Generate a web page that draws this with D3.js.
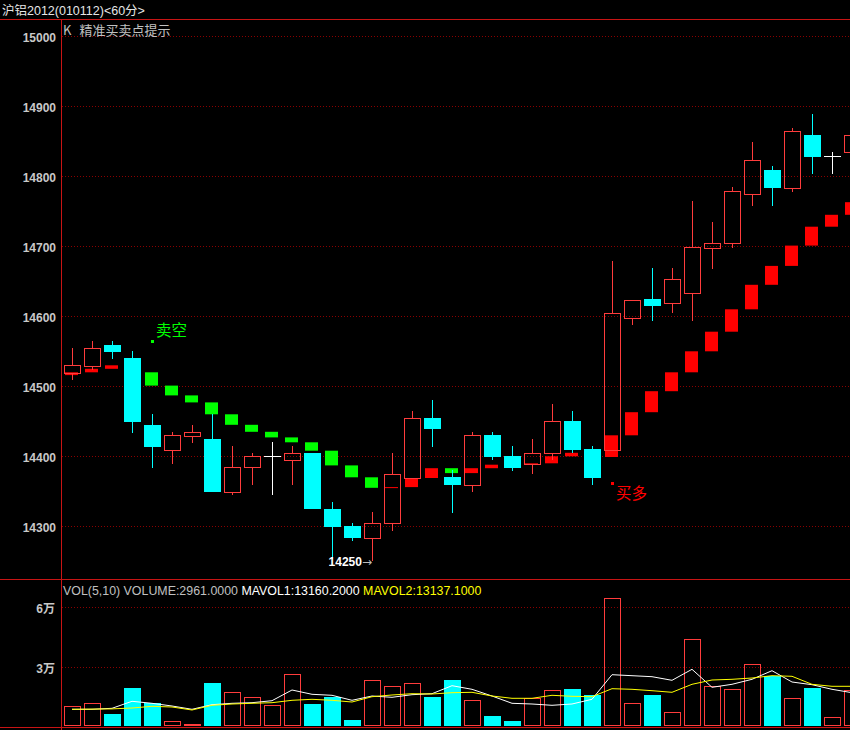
<!DOCTYPE html>
<html><head><meta charset="utf-8">
<script src="https://cdn.jsdelivr.net/npm/d3@7/dist/d3.min.js"></script>
<style>html,body{margin:0;padding:0;background:#000;overflow:hidden}svg{display:block}</style>
</head><body><svg id="c" width="850" height="730"></svg>
<script>
// ---- data ----
const opens  = [14519,14529,14559,14540,14445,14409,14429,14425,14349,14384,14400,14394,14405,14325,14300,14284,14304,14369,14455,14370,14359,14430,14400,14389,14404,14450,14410,14409,14598,14625,14619,14634,14698,14704,14774,14809,14784,14859,14829,14834];
const highs  = [14555,14565,14565,14550,14460,14435,14445,14460,14415,14405,14420,14415,14405,14335,14305,14320,14405,14465,14480,14380,14435,14435,14415,14425,14475,14464,14415,14679,14624,14669,14669,14765,14735,14785,14849,14815,14869,14889,14835,14859];
const lows   = [14509,14523,14539,14433,14383,14389,14419,14349,14344,14359,14344,14359,14324,14254,14279,14250,14294,14369,14414,14319,14349,14394,14379,14374,14394,14404,14359,14409,14588,14594,14604,14594,14668,14698,14758,14758,14778,14804,14804,14834];
const closes = [14530,14555,14549,14449,14413,14430,14435,14349,14385,14400,14400,14405,14324,14299,14284,14304,14374,14454,14439,14359,14430,14399,14383,14405,14450,14409,14369,14604,14624,14614,14654,14699,14704,14779,14824,14784,14864,14828,14829,14859];
// stepped signal line ("精准买卖点提示"): bar i spans level[i] -> level[i+1]
const sigLevels = [14516,14520,14525,14530,14520,14501,14487,14477,14460,14445,14435,14427,14420,14408,14387,14370,14355,14356,14369,14383,14376,14383,14388,14388,14390,14400,14405,14399,14430,14463,14493,14520,14550,14578,14610,14645,14672,14701,14728,14745,14763];
const volumes = [10500,12000,6650,19650,12150,3000,1650,22150,17500,15000,11000,26500,11650,15150,3650,23650,20500,22000,15150,23650,13500,5650,3150,14500,18650,19150,16150,64500,12000,16150,7500,44000,20800,19000,31500,25800,14500,19650,5000,18650];
const mavol1 = [9000,9000,9500,13000,12000,10650,9000,11300,12000,12300,13300,18650,16500,16000,13500,15650,15000,16300,16800,20800,19000,15650,12000,11650,11000,11650,14000,26300,25800,25300,23500,29000,20000,21500,24000,28300,22650,21300,19000,17300];
const mavol2 = [9000,9100,9200,9650,10500,10150,8650,11000,11650,12000,12300,13500,14000,13500,12650,15300,16150,16800,16650,17300,17500,15650,14500,14500,16000,15500,15300,19300,19000,18300,17500,21500,23650,24000,24650,25800,25500,21500,20500,20500];
const priceTicks = [14300,14400,14500,14600,14700,14800,14900,15000];
const volTicks = [30000,60000];
const volTickLabels = ["3万","6万"];
const tradeSignals = [{i:4, price:14564, label:"卖空", kind:"sell"},{i:27, price:14362, label:"买多", kind:"buy"}];
const titleText = "沪铝2012(010112)<60分>";
const legendK = ["K","精准买卖点提示"];
const volLegend = [["VOL(5,10) VOLUME:2961.0000 ","#c0c0c0"],["MAVOL1:13160.2000 ","#ffffff"],["MAVOL2:13137.1000","#ffff00"]];

// ---- drawing ----
const W=850,H=730;
const RED="#ff3c3c", SRED="#ff0000", CYAN="#00ffff", GREEN="#00ff00", GRID="#8a0000", AX="#c8c8c8", FRAME="#c81414";
const svg=d3.select("#c");
svg.append("rect").attr("width",W).attr("height",H).attr("fill","#000");
const n=opens.length;
const x=d3.scaleLinear().domain([0,n-1]).range([72,72+20*(n-1)]);
const y=d3.scaleLinear().domain([14300,15000]).range([526.3,36.3]);
const v=d3.scaleLinear().domain([0,60000]).range([727.3,607.3]);
const defs=svg.append("defs");
defs.append("clipPath").attr("id","cp").append("rect").attr("x",62).attr("y",20).attr("width",W-62).attr("height",558);
defs.append("clipPath").attr("id","cv").append("rect").attr("x",62).attr("y",580).attr("width",W-62).attr("height",147);
const cjk="'Noto Sans CJK SC','Liberation Sans',sans-serif";
const latcjk="'Liberation Sans','Noto Sans CJK SC',sans-serif";

// title
svg.append("text").attr("x",2).attr("y",14.5).attr("fill","#e6e6e6").attr("font-size",12.5).attr("font-family",latcjk).text(titleText);

// grid lines
svg.append("g").selectAll("line").data(priceTicks).join("line")
 .attr("x1",62).attr("x2",W).attr("y1",d=>Math.round(y(d))+0.5).attr("y2",d=>Math.round(y(d))+0.5)
 .attr("stroke",GRID).attr("stroke-dasharray","1,2");
svg.append("g").selectAll("line").data(volTicks).join("line")
 .attr("x1",62).attr("x2",W).attr("y1",d=>Math.round(v(d))+0.5).attr("y2",d=>Math.round(v(d))+0.5)
 .attr("stroke",GRID).attr("stroke-dasharray","1,2");

// axes labels
const ya=svg.append("g").attr("transform","translate(61,0)")
 .call(d3.axisLeft(y).tickValues(priceTicks).tickSize(0).tickPadding(5).tickFormat(d3.format("d")));
ya.select(".domain").remove();
ya.selectAll("text").attr("fill",AX).attr("font-size",12).attr("font-weight","bold").attr("font-family","'Liberation Sans',Arial,sans-serif").attr("dy","0.4em");
const va=svg.append("g").attr("transform","translate(61,0)")
 .call(d3.axisLeft(v).tickValues(volTicks).tickSize(0).tickPadding(6).tickFormat((d,i)=>volTickLabels[i]));
va.select(".domain").remove();
va.selectAll("text").attr("fill",AX).attr("font-size",12).attr("font-weight","bold").attr("font-family",latcjk).attr("dy","0.4em");

// legends
const lk=svg.append("text").attr("x",63).attr("y",34.5).attr("font-size",13).attr("font-family",cjk).attr("fill","#c0c0c0");
lk.append("tspan").text(legendK[0]);
lk.append("tspan").attr("dx",8).text(legendK[1]);
const lv=svg.append("text").attr("x",63).attr("y",595).attr("font-size",12.4).attr("font-family","'Liberation Sans',Arial,sans-serif").attr("xml:space","preserve");
volLegend.forEach(([t,c])=>lv.append("tspan").attr("fill",c).text(t));

// price area
const gp=svg.append("g").attr("clip-path","url(#cp)");
// stepped signal bars
const sig=d3.range(n).map(i=>({i,a:sigLevels[i],b:sigLevels[i+1]}));
gp.append("g").selectAll("rect").data(sig).join("rect")
 .attr("x",d=>Math.round(x(d.i))-7).attr("width",13)
 .attr("y",d=>Math.min(y(d.a),y(d.b)))
 .attr("height",d=>Math.max(1,Math.abs(y(d.a)-y(d.b))))
 .attr("fill",d=>d.b>=d.a?SRED:GREEN);

// candles
const cd=d3.range(n).map(i=>({i,o:opens[i],h:highs[i],l:lows[i],c:closes[i]}));
const gc=gp.append("g");
cd.forEach(d=>{
  const cx=Math.round(x(d.i)), wx=cx+0.5;
  const yo=Math.round(y(d.o)), yc=Math.round(y(d.c)), yh=Math.round(y(d.h)), yl=Math.round(y(d.l));
  if(d.c>d.o){
    if(yh<yc) gc.append("line").attr("x1",wx).attr("x2",wx).attr("y1",yh).attr("y2",yc).attr("stroke",RED);
    if(yl>yo) gc.append("line").attr("x1",wx).attr("x2",wx).attr("y1",yo+1).attr("y2",yl).attr("stroke",RED);
    gc.append("rect").attr("x",cx-7.5).attr("width",16).attr("y",yc+0.5).attr("height",Math.max(1,yo-yc)).attr("fill","none").attr("stroke",RED);
  } else if(d.c<d.o){
    gc.append("line").attr("x1",wx).attr("x2",wx).attr("y1",yh).attr("y2",yl).attr("stroke",CYAN);
    gc.append("rect").attr("x",cx-8).attr("width",17).attr("y",yo).attr("height",Math.max(1,yc-yo)).attr("fill",CYAN);
  } else {
    gc.append("line").attr("x1",wx).attr("x2",wx).attr("y1",yh).attr("y2",yl).attr("stroke","#fff");
    gc.append("line").attr("x1",cx-8).attr("x2",cx+9).attr("y1",yo+0.5).attr("y2",yo+0.5).attr("stroke","#fff");
  }
});

// trade signal markers
tradeSignals.forEach(s=>{
  const cx=Math.round(x(s.i)), sy=Math.round(y(s.price));
  const col=s.kind==="sell"?GREEN:SRED;
  gp.append("rect").attr("x",cx-1).attr("y",sy-1).attr("width",3).attr("height",3).attr("fill",col);
  gp.append("text").attr("x",cx+4).attr("y",s.kind==="sell"?sy-5:sy+16).attr("fill",col)
    .attr("font-size",15.5).attr("font-family",cjk).text(s.label);
});

// lowest price label
const li=d3.minIndex(lows);
const lt=gp.append("text").attr("x",Math.round(x(li))).attr("y",Math.round(y(lows[li]))+5)
  .attr("text-anchor","end").attr("font-size",12).attr("font-weight","bold").attr("font-family","'Liberation Sans',Arial,sans-serif");
lt.append("tspan").attr("fill","#ffffff").text(lows[li]);
lt.append("tspan").attr("fill","#bbbbbb").attr("font-weight","normal").attr("font-family","'DejaVu Sans',sans-serif").text("→");

// volume area
const gv=svg.append("g").attr("clip-path","url(#cv)");
volumes.forEach((vol,i)=>{
  const cx=Math.round(x(i)), top=Math.round(v(vol));
  if(closes[i]>=opens[i]){
    gv.append("rect").attr("x",cx-7.5).attr("width",16).attr("y",top+0.5).attr("height",Math.max(1,725-top)).attr("fill","none").attr("stroke",RED);
  } else {
    gv.append("rect").attr("x",cx-8).attr("width",17).attr("y",top).attr("height",726-top).attr("fill",CYAN);
  }
});
const ln=d3.line().x((d,i)=>x(i)).y(d=>v(d));
gv.append("path").datum(mavol1).attr("d",ln).attr("fill","none").attr("stroke","#ffffff").attr("stroke-width",1);
gv.append("path").datum(mavol2).attr("d",ln).attr("fill","none").attr("stroke","#ffff00").attr("stroke-width",1);

// frame lines
svg.append("line").attr("x1",0).attr("x2",W).attr("y1",19.5).attr("y2",19.5).attr("stroke",FRAME);
svg.append("line").attr("x1",0).attr("x2",W).attr("y1",579.5).attr("y2",579.5).attr("stroke",FRAME);
svg.append("line").attr("x1",0).attr("x2",W).attr("y1",727.5).attr("y2",727.5).attr("stroke",FRAME);
svg.append("line").attr("x1",61.5).attr("x2",61.5).attr("y1",19).attr("y2",H).attr("stroke",FRAME);
</script></body></html>
